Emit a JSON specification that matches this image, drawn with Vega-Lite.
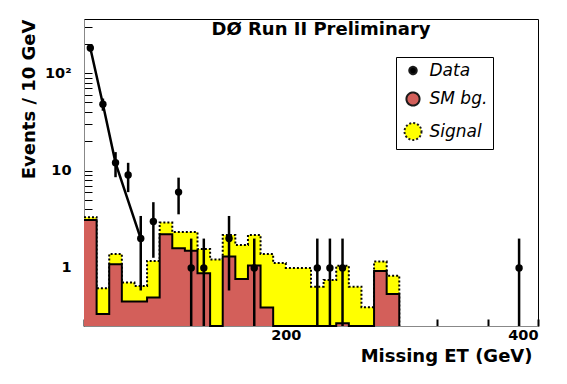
{
  "$schema": "https://vega.github.io/schema/vega-lite/v6.json",
  "width": 454,
  "height": 307,
  "autosize": {"type": "none"},
  "padding": {"left": 84, "top": 19, "right": 29, "bottom": 58},
  "background": "white",
  "title": {"text": "DØ Run II Preliminary", "font": "DejaVu Sans", "fontSize": 18, "fontWeight": "bold", "color": "black", "anchor": "middle", "frame": "group", "offset": -20, "dx": 10},
  "datasets": {
    "hist": [
      {"x": 40, "bg": 3.11, "tot": 3.32},
      {"x": 50, "bg": 0.337, "tot": 0.618},
      {"x": 60, "bg": 1.09, "tot": 1.39},
      {"x": 70, "bg": 0.451, "tot": 0.706},
      {"x": 80, "bg": 0.451, "tot": 0.653},
      {"x": 90, "bg": 0.495, "tot": 1.18},
      {"x": 100, "bg": 2.22, "tot": 2.92},
      {"x": 110, "bg": 1.59, "tot": 2.33},
      {"x": 120, "bg": 1.5, "tot": 2.33},
      {"x": 130, "bg": 0.88, "tot": 1.56},
      {"x": 140, "bg": 0.2, "tot": 1.22},
      {"x": 150, "bg": 1.31, "tot": 2.18},
      {"x": 160, "bg": 0.77, "tot": 1.72},
      {"x": 170, "bg": 1.06, "tot": 2.18},
      {"x": 180, "bg": 0.391, "tot": 1.39},
      {"x": 190, "bg": 0.2, "tot": 1.12},
      {"x": 200, "bg": 0.2, "tot": 1.0},
      {"x": 210, "bg": 0.2, "tot": 1.0},
      {"x": 220, "bg": 0.2, "tot": 0.642},
      {"x": 230, "bg": 0.2, "tot": 0.75},
      {"x": 240, "bg": 0.27, "tot": 1.05},
      {"x": 250, "bg": 0.2, "tot": 0.642},
      {"x": 260, "bg": 0.2, "tot": 0.394},
      {"x": 270, "bg": 0.93, "tot": 1.16},
      {"x": 280, "bg": 0.54, "tot": 0.83},
      {"x": 290, "bg": 0.2, "tot": 0.2}
    ],
    "obs": [
      {"x": 45, "n": 181, "lo": 167.5, "hi": 194.5},
      {"x": 55, "n": 48, "lo": 41.1, "hi": 54.9},
      {"x": 65, "n": 12, "lo": 8.54, "hi": 15.46},
      {"x": 75, "n": 9, "lo": 6, "hi": 12},
      {"x": 85, "n": 2, "lo": 0.586, "hi": 3.414},
      {"x": 95, "n": 3, "lo": 1.27, "hi": 4.73},
      {"x": 115, "n": 6, "lo": 3.55, "hi": 8.45},
      {"x": 125, "n": 1, "lo": 0.2, "hi": 2},
      {"x": 135, "n": 1, "lo": 0.2, "hi": 2},
      {"x": 155, "n": 2, "lo": 0.586, "hi": 3.414},
      {"x": 175, "n": 1, "lo": 0.2, "hi": 2},
      {"x": 225, "n": 1, "lo": 0.2, "hi": 2},
      {"x": 235, "n": 1, "lo": 0.2, "hi": 2},
      {"x": 245, "n": 1, "lo": 0.2, "hi": 2},
      {"x": 385, "n": 1, "lo": 0.2, "hi": 2}
    ],
    "fit": [
      {"x": 45, "f": 181},
      {"x": 55, "f": 48},
      {"x": 65, "f": 12},
      {"x": 85, "f": 2}
    ]
  },
  "layer": [
    {
      "data": {"name": "hist"},
      "mark": {"type": "area", "interpolate": "step-after", "opacity": 1},
      "encoding": {
        "x": {"field": "x", "type": "quantitative", "title": "Missing ET (GeV)",
          "scale": {"domain": [40, 400], "nice": false, "zero": false},
          "axis": {
            "values": [40,50,60,70,80,90,100,110,120,130,140,150,160,170,180,190,200,210,220,230,240,250,260,270,280,290,300,310,320,330,340,350,360,370,380,390,400],
            "ticks": true, "tickSize": -7, "tickColor": "black", "tickWidth": 2,
            "labelExpr": "datum.value % 50 === 0 ? datum.label : ''",
            "labelFont": "DejaVu Sans", "labelFontWeight": "bold", "labelFontSize": 14.5, "labelColor": "black",
            "labelPadding": 9, "labelOverlap": false, "labelSeparation": -30, "grid": false,
            "titleFont": "DejaVu Sans", "titleFontSize": 18, "titleFontWeight": "bold", "titleColor": "black",
            "titleAnchor": "end", "titlePadding": 6, "titleX": 448
          }},
        "y": {"field": "tot", "type": "quantitative", "title": "Events / 10 GeV",
          "scale": {"type": "log", "domain": [0.253, 360], "nice": false, "clamp": true},
          "axis": {
            "values": [0.3,0.4,0.5,0.6,0.7,0.8,0.9,1,2,3,4,5,6,7,8,9,10,20,30,40,50,60,70,80,90,100,200,300],
            "ticks": true, "tickSize": -8, "tickColor": "#000000", "tickWidth": 1,
            "labelExpr": "datum.value === 1 ? '1' : datum.value === 10 ? '10' : datum.value === 100 ? '10²' : ''",
            "labelFont": "DejaVu Sans", "labelFontWeight": "bold", "labelFontSize": 14.5, "labelColor": "black",
            "labelPadding": 21, "labelOverlap": false, "grid": false,
            "titleFont": "DejaVu Sans", "titleFontSize": 18, "titleFontWeight": "bold", "titleColor": "black",
            "titleAnchor": "end", "titlePadding": 6
          }},
        "color": {"datum": "Signal", "type": "nominal",
          "scale": {"domain": ["Data", "SM bg.", "Signal"], "range": ["black", "#d35f5a", "#ffff00"]},
          "legend": {
            "title": null, "orient": "none", "legendX": 312, "legendY": 38,
            "fillColor": "white", "strokeColor": "black", "padding": 5,
            "symbolSize": 289, "symbolOffset": 2.5, "labelOffset": 7, "rowPadding": 8.5,
            "symbolStrokeColor": "#1a1a1a", "symbolStrokeWidth": 2,
            "labelFont": "DejaVu Sans", "labelFontStyle": "italic", "labelFontSize": 17, "labelColor": "black",
            "labelExpr": "datum.label + '\u00a0\u00a0\u00a0'"
          }}
      }
    },
    {
      "data": {"name": "hist"},
      "mark": {"type": "line", "interpolate": "step-after", "color": "black", "strokeWidth": 2, "strokeDash": [2, 2]},
      "encoding": {
        "x": {"field": "x", "type": "quantitative", "title": "Missing ET (GeV)"},
        "y": {"field": "tot", "type": "quantitative", "title": "Events / 10 GeV"}
      }
    },
    {
      "data": {"name": "hist"},
      "mark": {"type": "area", "interpolate": "step-after", "opacity": 1},
      "encoding": {
        "x": {"field": "x", "type": "quantitative", "title": "Missing ET (GeV)"},
        "y": {"field": "bg", "type": "quantitative", "title": "Events / 10 GeV"},
        "color": {"datum": "SM bg.", "type": "nominal", "legend": null}
      }
    },
    {
      "data": {"name": "hist"},
      "mark": {"type": "line", "interpolate": "step-after", "color": "black", "strokeWidth": 2},
      "encoding": {
        "x": {"field": "x", "type": "quantitative", "title": "Missing ET (GeV)"},
        "y": {"field": "bg", "type": "quantitative", "title": "Events / 10 GeV"}
      }
    },
    {
      "data": {"name": "obs"},
      "mark": {"type": "rule", "color": "black", "strokeWidth": 2.5},
      "encoding": {
        "x": {"field": "x", "type": "quantitative", "title": "Missing ET (GeV)"},
        "y": {"field": "lo", "type": "quantitative", "title": "Events / 10 GeV"},
        "y2": {"field": "hi"}
      }
    },
    {
      "data": {"name": "fit"},
      "mark": {"type": "line", "color": "black", "strokeWidth": 2.5},
      "encoding": {
        "x": {"field": "x", "type": "quantitative", "title": "Missing ET (GeV)"},
        "y": {"field": "f", "type": "quantitative", "title": "Events / 10 GeV"}
      }
    },
    {
      "data": {"name": "obs"},
      "mark": {"type": "circle", "opacity": 1},
      "encoding": {
        "x": {"field": "x", "type": "quantitative", "title": "Missing ET (GeV)"},
        "y": {"field": "n", "type": "quantitative", "title": "Events / 10 GeV"},
        "color": {"datum": "Data", "type": "nominal", "legend": null},
        "size": {"datum": "Data", "type": "ordinal",
          "scale": {"domain": ["Data", "SM bg.", "Signal"], "range": [55, 289, 289]},
          "legend": {"title": null}},
        "strokeDash": {"datum": "Data", "type": "nominal",
          "scale": {"domain": ["Data", "SM bg.", "Signal"], "range": [[1, 0], [1, 0], [2, 2]]},
          "legend": {"title": null}}
      }
    }
  ],
  "config": {
    "view": {"stroke": "black", "strokeWidth": 1},
    "font": "DejaVu Sans"
  }
}
